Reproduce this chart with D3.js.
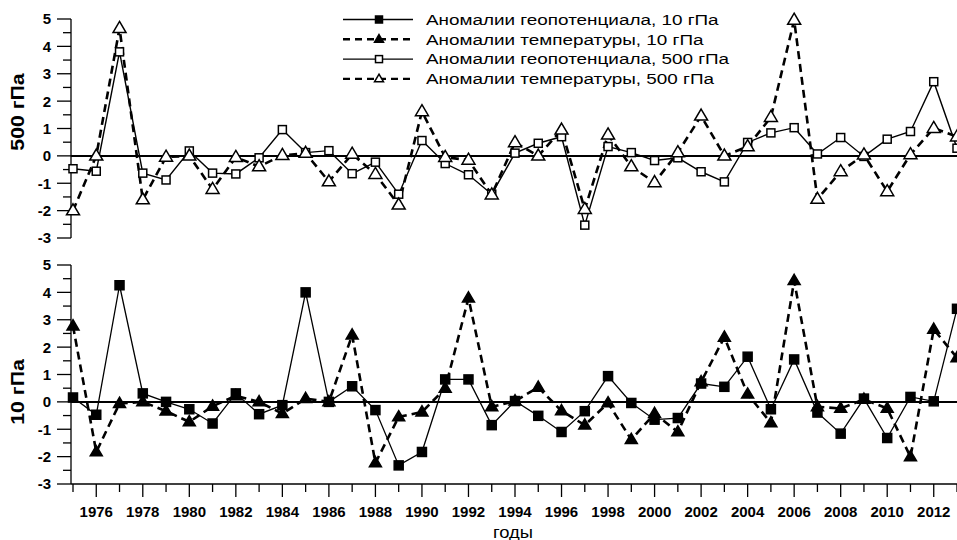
<!DOCTYPE html>
<html>
<head>
<meta charset="utf-8">
<script src="https://cdn.jsdelivr.net/npm/d3@7"></script>
<style>
  body { margin: 0; background: #fff; }
  svg { display: block; font-family: Arial, "Liberation Sans", sans-serif; }
</style>
</head>
<body>
<script>
const years = d3.range(1975, 2014);
const yearTicks = d3.range(1976, 2013, 2);
const yTicks = [-3, -2, -1, 0, 1, 2, 3, 4, 5];

// 500 гПа
const geo500 = [-0.47, -0.56, 3.8, -0.63, -0.88, 0.18, -0.63, -0.66, -0.07, 0.96,
  0.12, 0.19, -0.65, -0.23, -1.4, 0.56, -0.28, -0.69, -1.4, 0.1,
  0.46, 0.7, -2.53, 0.34, 0.12, -0.17, -0.07, -0.58, -0.95, 0.49,
  0.84, 1.03, 0.07, 0.67, -0.02, 0.61, 0.89, 2.71, 0.28];
const temp500 = [-2.0, 0.0, 4.66, -1.6, -0.04, 0.0, -1.22, -0.05, -0.39, 0.02,
  0.1, -0.94, 0.07, -0.67, -1.79, 1.62, -0.05, -0.15, -1.42, 0.49,
  0.0, 0.95, -1.95, 0.77, -0.39, -0.97, 0.12, 1.46, 0.0, 0.34,
  1.41, 4.96, -1.58, -0.57, 0.04, -1.3, 0.05, 1.01, 0.7];

// 10 гПа
const geo10 = [0.16, -0.47, 4.26, 0.31, 0.0, -0.27, -0.79, 0.31, -0.45, -0.12,
  4.0, 0.0, 0.57, -0.3, -2.32, -1.83, 0.82, 0.82, -0.85, 0.03,
  -0.51, -1.1, -0.34, 0.94, -0.04, -0.65, -0.59, 0.67, 0.55, 1.65,
  -0.27, 1.55, -0.39, -1.16, 0.12, -1.32, 0.18, 0.02, 3.4];
const temp10 = [2.77, -1.83, -0.06, 0.0, -0.34, -0.73, -0.16, 0.22, 0.0, -0.43,
  0.12, 0.0, 2.44, -2.23, -0.55, -0.37, 0.49, 3.79, -0.18, 0.03,
  0.53, -0.33, -0.85, -0.04, -1.38, -0.43, -1.1, 0.73, 2.36, 0.28,
  -0.77, 4.43, -0.18, -0.24, 0.09, -0.24, -2.01, 2.65, 1.61];

const legendLabels = [
  "Аномалии геопотенциала, 10 гПа",
  "Аномалии температуры, 10 гПа",
  "Аномалии геопотенциала, 500 гПа",
  "Аномалии температуры, 500 гПа"
];

const w = 957, h = 540;
const svg = d3.select("body").append("svg").attr("width", w).attr("height", h);

const x = d3.scaleLinear().domain([1975, 2013]).range([73, 957]);
const axisX = 71;

// стили серий
const styles = {
  geo10:   { dash: null,  width: 1.3, marker: "square",   fill: "#000", size: 9 },
  temp10:  { dash: "8,5", width: 2.6, marker: "triangle", fill: "#000", size: 12 },
  geo500:  { dash: null,  width: 1.4, marker: "square",   fill: "#fff", size: 8 },
  temp500: { dash: "8,5", width: 2.6, marker: "triangle", fill: "#fff", size: 13 }
};

function marker(g, type, cx, cy, size, fill) {
  if (type === "square") {
    g.append("rect")
      .attr("x", cx - size / 2).attr("y", cy - size / 2)
      .attr("width", size).attr("height", size)
      .attr("fill", fill).attr("stroke", "#000").attr("stroke-width", 1.5);
  } else {
    const s = size;
    const hgt = s * 0.85;
    g.append("path")
      .attr("d", `M${cx},${cy - hgt * 0.62} L${cx + s / 2},${cy + hgt * 0.38} L${cx - s / 2},${cy + hgt * 0.38} Z`)
      .attr("fill", fill).attr("stroke", "#000").attr("stroke-width", 1.5);
  }
}

function panel(top, bottom, title, titleY, series, showX) {
  const y = d3.scaleLinear().domain([-3, 5]).range([bottom, top]);

  // ось Y
  const g = svg.append("g");
  g.append("line").attr("x1", axisX).attr("x2", axisX)
    .attr("y1", y(5)).attr("y2", y(-3)).attr("stroke", "#000").attr("stroke-width", 1.3);
  d3.range(-3, 5.01, 0.5).forEach(v => {
    const major = Number.isInteger(v);
    g.append("line")
      .attr("x1", axisX - (major ? 14 : 8)).attr("x2", axisX)
      .attr("y1", y(v)).attr("y2", y(v))
      .attr("stroke", "#000").attr("stroke-width", 1.3);
  });
  yTicks.forEach(v => {
    g.append("text").attr("x", 51).attr("y", y(v)).attr("dy", "0.36em")
      .attr("text-anchor", "end").attr("font-size", 15).attr("font-weight", "bold")
      .text(v);
  });
  g.append("text")
    .attr("transform", `translate(17,${titleY}) rotate(-90) scale(1.12,1)`)
    .attr("text-anchor", "middle").attr("dy", "0.35em")
    .attr("font-size", 19).attr("font-weight", "bold")
    .text(title);

  // нулевая линия
  g.append("line").attr("x1", axisX).attr("x2", w)
    .attr("y1", y(0)).attr("y2", y(0)).attr("stroke", "#000").attr("stroke-width", 2);

  if (showX) {
    g.append("line").attr("x1", axisX).attr("x2", w)
      .attr("y1", y(-3)).attr("y2", y(-3)).attr("stroke", "#000").attr("stroke-width", 1.3);
    years.forEach(yr => {
      const major = yr % 2 === 0;
      g.append("line").attr("x1", x(yr)).attr("x2", x(yr))
        .attr("y1", y(-3)).attr("y2", y(-3) + (major ? 13 : 8))
        .attr("stroke", "#000").attr("stroke-width", 1.3);
    });
    yearTicks.forEach(yr => {
      g.append("text").attr("x", x(yr)).attr("y", y(-3) + 28)
        .attr("text-anchor", "middle").attr("dy", "0.35em")
        .attr("font-size", 15).attr("font-weight", "bold")
        .text(yr);
    });
    g.append("text").attr("transform", "translate(513,532) scale(1.15,1)")
      .attr("dy", "0.35em")
      .attr("text-anchor", "middle").attr("font-size", 16).text("годы");
  }

  const line = d3.line().x((d, i) => x(years[i])).y(d => y(d));
  const plot = svg.append("g");
  series.forEach(s => {
    const st = styles[s.key];
    plot.append("path").datum(s.values)
      .attr("d", line).attr("fill", "none").attr("stroke", "#000")
      .attr("stroke-width", st.width)
      .attr("stroke-dasharray", st.dash);
  });
  series.forEach(s => {
    const st = styles[s.key];
    s.values.forEach((v, i) => marker(plot, st.marker, x(years[i]), y(v), st.size, st.fill));
  });
}

panel(19, 238, "500 гПа", 112, [
  { key: "geo500", values: geo500 },
  { key: "temp500", values: temp500 }
], false);

panel(265, 484, "10 гПа", 392, [
  { key: "geo10", values: geo10 },
  { key: "temp10", values: temp10 }
], true);

// легенда
const legKeys = ["geo10", "temp10", "geo500", "temp500"];
const leg = svg.append("g");
legKeys.forEach((k, i) => {
  const st = styles[k];
  const ly = 19.5 + i * 19.8;
  leg.append("line").attr("x1", 343).attr("x2", 413).attr("y1", ly).attr("y2", ly)
    .attr("stroke", "#000").attr("stroke-width", st.dash ? 2.4 : 1.3)
    .attr("stroke-dasharray", st.dash ? "7,5" : null);
  marker(leg, st.marker, 379, ly, st.marker === "square" ? 7 : 9, st.fill);
  leg.append("text").attr("transform", `translate(426,${ly}) scale(1.26,1)`)
    .attr("dy", "0.35em")
    .attr("font-size", 15).text(legendLabels[i]);
});
</script>
</body>
</html>
